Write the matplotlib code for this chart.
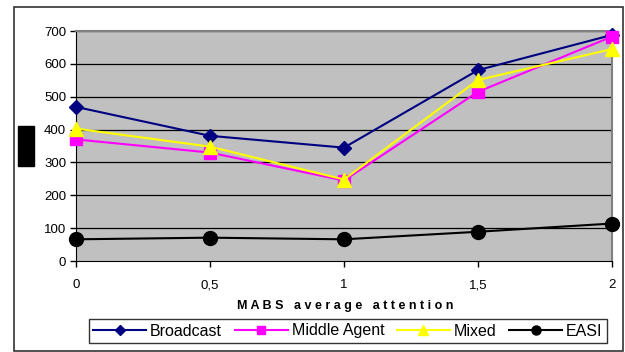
import matplotlib
matplotlib.use("Agg")
import matplotlib.pyplot as plt
from matplotlib.patches import Rectangle

x = [0, 0.5, 1, 1.5, 2]
x_labels = ["0", "0,5", "1", "1,5", "2"]
broadcast = [469, 381, 345, 581, 688]
middle_agent = [370, 330, 245, 515, 683]
mixed = [403, 348, 248, 551, 645]
easi = [66, 71, 66, 89, 114]
y_ticks = [0, 100, 200, 300, 400, 500, 600, 700]

plt.rcParams['font.family'] = ['Liberation Sans', 'DejaVu Sans']

W, H = 625, 352
fig = plt.figure(figsize=(W / 100, H / 100), dpi=100)
fig.patch.set_facecolor('white')

# outer frame
fig.add_artist(Rectangle((14 / W, 1 - 351 / H), (623 - 14) / W, (351 - 7) / H,
                         transform=fig.transFigure, fill=False, edgecolor='#333333', lw=1.2))
# black box (y label placeholder)
fig.add_artist(Rectangle((18 / W, 1 - 166 / H), 16 / W, 40 / H,
                         transform=fig.transFigure, facecolor='black', edgecolor='black'))

ax = fig.add_axes([76 / W, 1 - 261 / H, (612 - 76) / W, (261 - 31) / H])
ax.set_facecolor('#C0C0C0')
ax.set_xlim(0, 2)
ax.set_ylim(0, 700)
ax.set_yticks(y_ticks)
ax.set_xticks(x)
ax.set_xticklabels(x_labels)
for t in y_ticks[1:]:
    ax.axhline(t, color='black', lw=0.9, zorder=1)
ax.spines['top'].set_color('#808080')
ax.spines['right'].set_color('#808080')
ax.spines['top'].set_linewidth(1.5)
ax.spines['right'].set_linewidth(1.5)
ax.spines['left'].set_color('black')
ax.spines['bottom'].set_color('black')
ax.tick_params(axis='both', direction='out', length=4, width=1, labelsize=9.5, colors='black')
ax.tick_params(axis='x', pad=9)
ax.tick_params(axis='y', pad=3)

kw = dict(lw=1.5, clip_on=False, zorder=3)
ax.plot(x, broadcast, color='#000080', marker='D', ms=7.5, label='Broadcast', **kw)
ax.plot(x, middle_agent, color='#FF00FF', marker='s', ms=8.5, label='Middle Agent', **kw)
ax.plot(x, mixed, color='#FFFF00', marker='^', ms=10.5, label='Mixed', **kw)
ax.plot(x, easi, color='black', marker='o', ms=10, label='EASI', **kw)

fig.text(345 / W, 1 - 306 / H, 'M A B S   a v e r a g e   a t t e n t i o n',
         ha='center', va='center', fontsize=9, fontweight='bold')

leg = fig.legend(loc='center', bbox_to_anchor=(348 / W, 1 - 331 / H), ncol=4,
                 frameon=True, fancybox=False, edgecolor='black', fontsize=11.5,
                 handlelength=3.3, columnspacing=0.8, handletextpad=0.25,
                 borderpad=0.3, markerscale=0.65)
leg.get_frame().set_linewidth(1)

fig.savefig('out.png', dpi=100)
